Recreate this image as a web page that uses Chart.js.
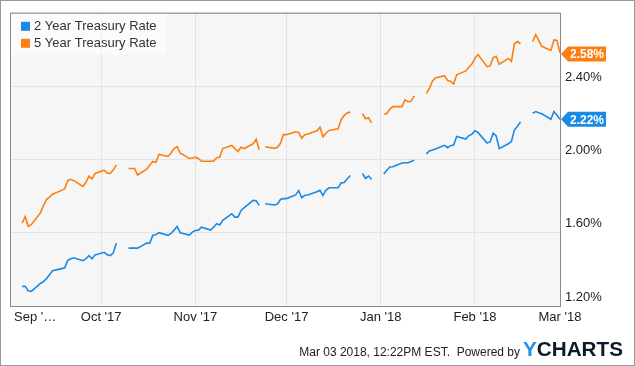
<!DOCTYPE html>
<html>
<head>
<meta charset="utf-8">
<script src="https://cdn.jsdelivr.net/npm/chart.js@4.4.1/dist/chart.umd.min.js"></script>
<style>
  html, body { margin: 0; padding: 0; background: #fff; }
  #wrap { position: relative; width: 635px; height: 366px; }
</style>
</head>
<body>
<div id="wrap"><canvas id="rates" width="635" height="366"></canvas></div>
<script>
// business days, holidays kept as null so the line breaks there
const dates = [
  "2017-09-05","2017-09-06","2017-09-07","2017-09-08","2017-09-11","2017-09-12","2017-09-13","2017-09-14","2017-09-15",
  "2017-09-18","2017-09-19","2017-09-20","2017-09-21","2017-09-22","2017-09-25","2017-09-26","2017-09-27","2017-09-28","2017-09-29",
  "2017-10-02","2017-10-03","2017-10-04","2017-10-05","2017-10-06","2017-10-09","2017-10-10","2017-10-11","2017-10-12","2017-10-13",
  "2017-10-16","2017-10-17","2017-10-18","2017-10-19","2017-10-20","2017-10-23","2017-10-24","2017-10-25","2017-10-26","2017-10-27",
  "2017-10-30","2017-10-31",
  "2017-11-01","2017-11-02","2017-11-03","2017-11-06","2017-11-07","2017-11-08","2017-11-09","2017-11-10","2017-11-13","2017-11-14",
  "2017-11-15","2017-11-16","2017-11-17","2017-11-20","2017-11-21","2017-11-22","2017-11-23","2017-11-24","2017-11-27","2017-11-28",
  "2017-11-29","2017-11-30",
  "2017-12-01","2017-12-04","2017-12-05","2017-12-06","2017-12-07","2017-12-08","2017-12-11","2017-12-12","2017-12-13","2017-12-14",
  "2017-12-15","2017-12-18","2017-12-19","2017-12-20","2017-12-21","2017-12-22","2017-12-25","2017-12-26","2017-12-27","2017-12-28",
  "2017-12-29",
  "2018-01-01","2018-01-02","2018-01-03","2018-01-04","2018-01-05","2018-01-08","2018-01-09","2018-01-10","2018-01-11","2018-01-12",
  "2018-01-15","2018-01-16","2018-01-17","2018-01-18","2018-01-19","2018-01-22","2018-01-23","2018-01-24","2018-01-25","2018-01-26",
  "2018-01-29","2018-01-30","2018-01-31",
  "2018-02-01","2018-02-02","2018-02-05","2018-02-06","2018-02-07","2018-02-08","2018-02-09","2018-02-12","2018-02-13","2018-02-14",
  "2018-02-15","2018-02-16","2018-02-19","2018-02-20","2018-02-21","2018-02-22","2018-02-23","2018-02-26","2018-02-27","2018-02-28",
  "2018-03-01"
];

const twoYear = [
  1.307,1.307,1.283,1.280,1.323,1.333,1.349,1.371,1.392,1.404,1.408,1.449,1.458,1.463,1.447,1.458,1.475,1.458,1.479,
  1.493,1.479,1.475,1.490,1.543,null,1.516,1.516,1.516,1.516,1.543,1.543,1.586,1.589,1.600,1.586,1.596,1.614,1.634,1.600,1.587,1.603,
  1.612,1.614,1.630,1.614,1.630,1.649,1.642,1.667,1.703,1.685,1.685,1.720,1.735,1.776,1.774,1.749,null,1.758,1.751,1.756,1.781,1.786,
  1.786,1.806,1.830,1.791,1.804,1.806,1.823,1.831,1.804,1.833,1.845,1.845,1.872,1.874,1.894,1.912,null,1.923,1.896,1.909,1.890,
  null,1.920,1.941,1.959,1.960,1.980,1.982,1.982,1.989,1.995,null,2.030,2.046,2.051,2.057,2.077,2.064,2.075,2.078,2.125,2.111,2.130,2.137,
  2.156,2.147,2.089,2.095,2.143,2.128,2.059,2.085,2.098,2.160,2.181,2.204,null,2.252,2.261,2.254,2.249,2.219,2.261,2.241,
  2.219
];

const fiveYear = [
  1.653,1.689,1.635,1.644,1.708,1.747,1.781,1.794,1.810,1.831,1.840,1.884,1.891,1.884,1.852,1.875,1.909,1.893,1.923,
  1.941,1.925,1.923,1.943,1.970,null,1.950,1.950,1.950,1.915,1.947,1.970,1.989,1.984,2.027,2.016,2.035,2.059,2.069,2.035,2.005,2.008,
  2.012,2.005,1.990,1.990,1.990,2.009,2.012,2.059,2.076,2.059,2.043,2.066,2.059,2.085,2.110,2.053,null,2.069,2.060,2.066,2.088,2.135,
  2.135,2.151,2.147,2.115,2.135,2.139,2.156,2.176,2.123,2.144,2.158,2.167,2.219,2.240,2.254,2.258,null,2.249,2.222,2.227,2.199,
  null,2.249,2.249,2.275,2.288,2.288,2.325,2.315,2.317,2.347,null,2.359,2.387,2.427,2.444,2.457,2.430,2.427,2.411,2.462,2.483,2.503,2.521,
  2.551,2.572,2.506,2.510,2.555,2.563,2.519,2.551,2.535,2.631,2.643,2.631,null,2.643,2.681,2.649,2.617,2.595,2.652,2.649,
  2.581
];

const monthTicks = ["2017-10-01","2017-11-01","2017-12-01","2018-01-01","2018-02-01","2018-03-01"];
const monthLabels = ["Oct '17","Nov '17","Dec '17","Jan '18","Feb '18","Mar '18"];
const yTicks = [1.2, 1.6, 2.0, 2.4, 2.8];

const BLUE = "#1a8ae6";
const ORANGE = "#fd7f12";
const FONT = '"Liberation Sans", Arial, sans-serif';

// days since Sep 1 2017 (no date adapter in the sandbox)
const START = Date.UTC(2017, 8, 1);
function dayOf(s) {
  const p = s.split("-").map(Number);
  return (Date.UTC(p[0], p[1] - 1, p[2]) - START) / 86400000;
}
function points(vals) {
  return dates.map((d, i) => ({ x: dayOf(d), y: vals[i] }));
}
const tickDays = monthTicks.map(dayOf);

function badge(ctx, x, y, text, color) {
  const w = 45, h = 15;
  ctx.fillStyle = color;
  ctx.beginPath();
  ctx.moveTo(x, y);
  ctx.lineTo(x + 7, y - h / 2);
  ctx.lineTo(x + w, y - h / 2);
  ctx.lineTo(x + w, y + h / 2);
  ctx.lineTo(x + 7, y + h / 2);
  ctx.closePath();
  ctx.fill();
  ctx.fillStyle = "#fff";
  ctx.font = "bold 12px " + FONT;
  ctx.textAlign = "center";
  ctx.textBaseline = "middle";
  ctx.fillText(text, x + 7 + (w - 7) / 2, y + 1);
}

const deco = {
  id: "deco",
  beforeDraw(chart) {
    const { ctx, chartArea: a } = chart;
    ctx.save();
    ctx.fillStyle = "#fff";
    ctx.fillRect(0, 0, chart.width, chart.height);
    ctx.fillStyle = "#f6f6f6";
    ctx.fillRect(a.left, a.top, a.right - a.left, a.bottom - a.top);
    ctx.restore();
  },
  afterDraw(chart) {
    const { ctx, chartArea: a } = chart;
    const ys = chart.scales.y;
    ctx.save();

    // plot frame and outer frame
    ctx.strokeStyle = "#8a8a8a";
    ctx.lineWidth = 1;
    ctx.strokeRect(a.left + 0.5, a.top + 0.5, a.right - a.left, a.bottom - a.top);
    ctx.strokeStyle = "#999";
    ctx.strokeRect(0.5, 0.5, chart.width - 1, chart.height - 1);

    // legend
    ctx.fillStyle = "rgba(255,255,255,0.5)";
    ctx.fillRect(a.left + 1, a.top + 1, 156, 41);
    ctx.font = "13px " + FONT;
    ctx.textAlign = "left";
    ctx.textBaseline = "middle";
    [["2 Year Treasury Rate", BLUE], ["5 Year Treasury Rate", ORANGE]].forEach((it, i) => {
      const cy = a.top + 13 + i * 17;
      ctx.fillStyle = it[1];
      ctx.fillRect(a.left + 11, cy - 4, 9, 9);
      ctx.fillStyle = "#333";
      ctx.fillText(it[0], a.left + 24, cy + 1);
    });

    // first month label, cut short like the original
    ctx.fillStyle = "#222";
    ctx.fillText("Sep '\u2026", 14, 317);

    // last value badges
    const last2 = twoYear[twoYear.length - 1];
    const last5 = fiveYear[fiveYear.length - 1];
    badge(ctx, a.right + 1, ys.getPixelForValue(last5) + 1, last5.toFixed(2) + "%", ORANGE);
    badge(ctx, a.right + 1, ys.getPixelForValue(last2), last2.toFixed(2) + "%", BLUE);

    // footer
    ctx.font = "12px " + FONT;
    ctx.fillStyle = "#222";
    ctx.textAlign = "right";
    ctx.fillText("Mar 03 2018, 12:22PM EST.  Powered by", 520, 353);
    ctx.font = "bold 20px " + FONT;
    ctx.textAlign = "left";
    const wy = ctx.measureText("Y").width;
    const wAll = ctx.measureText("YCHARTS").width;
    ctx.translate(523, 350);
    ctx.scale(100 / wAll, 1);
    ctx.fillStyle = "#1d8fec";
    ctx.fillText("Y", 0, 0);
    ctx.fillStyle = "#0d1a2c";
    ctx.fillText("CHARTS", wy, 0);
    ctx.restore();
  }
};

new Chart(document.getElementById("rates"), {
  type: "line",
  data: {
    datasets: [
      {
        label: "2 Year Treasury Rate",
        data: points(twoYear),
        borderColor: BLUE,
        borderWidth: 1.6,
        pointRadius: 0,
        tension: 0,
        spanGaps: false,
      },
      {
        label: "5 Year Treasury Rate",
        data: points(fiveYear),
        borderColor: ORANGE,
        borderWidth: 1.6,
        pointRadius: 0,
        tension: 0,
        spanGaps: false,
      },
    ],
  },
  options: {
    responsive: false,
    animation: false,
    layout: { padding: { left: 10, top: 10, right: 0, bottom: 0 } },
    plugins: { legend: { display: false }, tooltip: { enabled: false } },
    scales: {
      x: {
        type: "linear",
        min: 0,
        max: dayOf("2018-03-01"),
        afterBuildTicks: (s) => { s.ticks = tickDays.map((v) => ({ value: v })); },
        afterFit: (s) => { s.height = 60; },
        grid: { color: "#e3e3e3", drawTicks: false },
        border: { display: false },
        ticks: {
          autoSkip: false,
          maxRotation: 0,
          padding: 4,
          color: "#222",
          font: { family: FONT, size: 13 },
          callback: (v) => monthLabels[tickDays.indexOf(v)],
        },
      },
      y: {
        position: "right",
        min: 1.2,
        max: 2.8,
        afterBuildTicks: (s) => { s.ticks = yTicks.map((v) => ({ value: v })); },
        afterFit: (s) => { s.width = 75; },
        grid: { color: "#e3e3e3", drawTicks: false },
        border: { display: false },
        ticks: {
          padding: 5,
          labelOffset: -9,
          color: "#222",
          font: { family: FONT, size: 13 },
          callback: (v) => (v > 2.75 ? "" : v.toFixed(2) + "%"),
        },
      },
    },
  },
  plugins: [deco],
});
</script>
</body>
</html>
